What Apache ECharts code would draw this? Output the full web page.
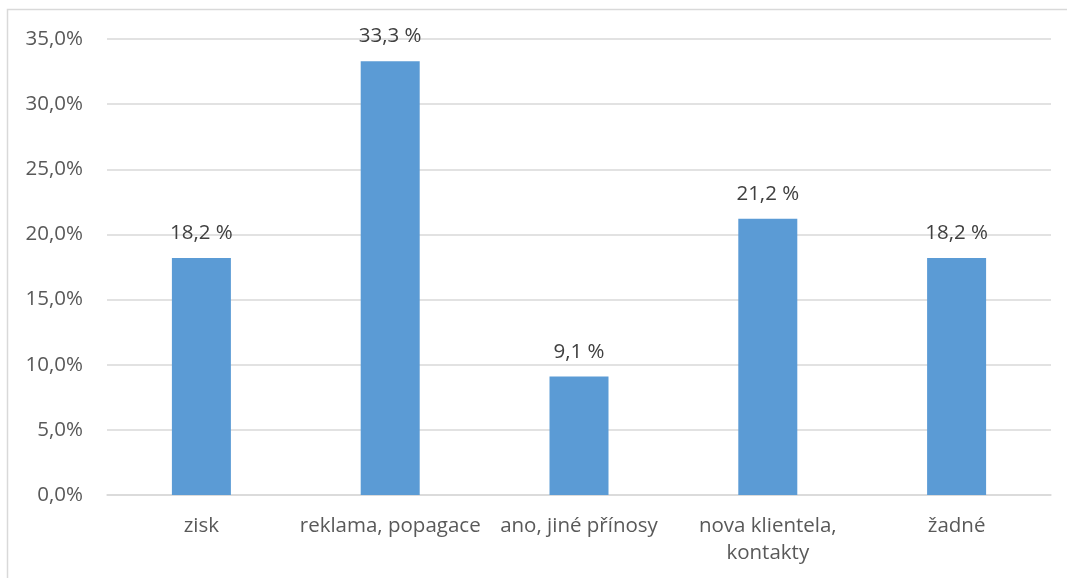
<!DOCTYPE html>
<html>
<head>
<meta charset="utf-8">
<style>
  html, body { margin: 0; padding: 0; background: #fff; }
  #chart { width: 1067px; height: 578px; }
</style>
<script src="https://cdn.jsdelivr.net/npm/echarts@6/dist/echarts.min.js"></script>
</head>
<body>
<div id="chart"></div>
<script>
// Survey answers: benefits of participation
const categories = ['zisk', 'reklama, popagace', 'ano, jiné přínosy', 'nova klientela,\nkontakty', 'žadné'];
const shares = [18.2, 33.3, 9.1, 21.2, 18.2];

const fmtPct = v => v.toFixed(1).replace('.', ',');
const FONT = '"Open Sans", Lato, sans-serif';

const chart = echarts.init(document.getElementById('chart'), null, { renderer: 'canvas' });
chart.setOption({
  animation: false,
  backgroundColor: '#fff',
  graphic: [{
    type: 'rect',
    shape: { x: 7.5, y: 9.5, width: 1070, height: 600 },
    style: { fill: 'none', stroke: '#d9d9d9', lineWidth: 1.5 },
    silent: true
  }],
  grid: { left: 107, right: 16, top: 39, bottom: 83 },
  xAxis: {
    type: 'category',
    data: categories,
    axisLine: { show: true, lineStyle: { color: '#d9d9d9', width: 1.5 } },
    axisTick: { show: false },
    axisLabel: {
      interval: 0, color: '#595959', fontSize: 20.5, fontFamily: FONT,
      margin: 18, lineHeight: 27
    }
  },
  yAxis: {
    type: 'value',
    min: 0, max: 35, interval: 5,
    axisLine: { show: false },
    axisTick: { show: false },
    splitLine: { lineStyle: { color: '#d9d9d9', width: 1.5 } },
    axisLabel: {
      color: '#595959', fontSize: 20.5, fontFamily: FONT, margin: 24,
      formatter: v => fmtPct(v) + '%'
    }
  },
  series: [{
    type: 'bar',
    data: shares,
    barWidth: 59,
    itemStyle: { color: '#5b9bd5' },
    label: {
      show: true, position: 'top', distance: 14,
      color: '#404040', fontSize: 20.5, fontFamily: FONT,
      formatter: p => fmtPct(p.value) + ' %'
    }
  }]
});
</script>
</body>
</html>
